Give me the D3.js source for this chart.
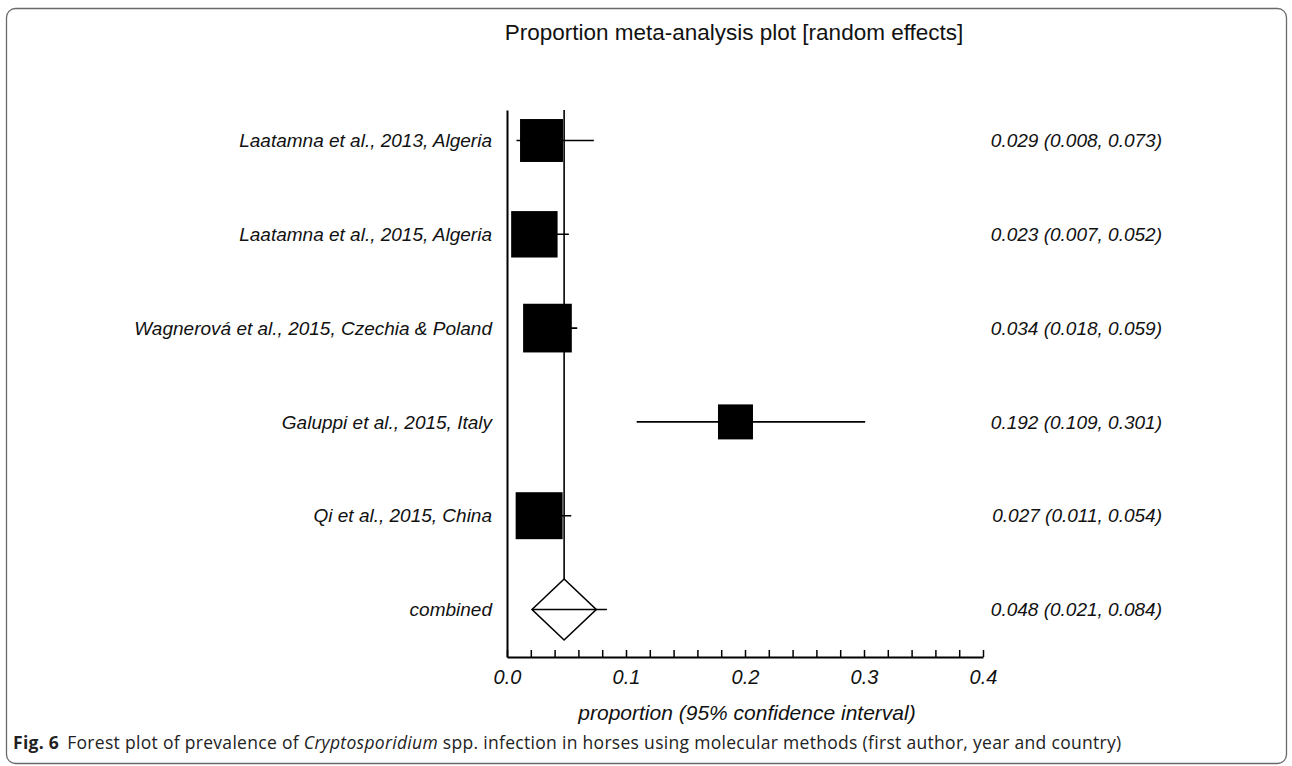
<!DOCTYPE html>
<html>
<head>
<meta charset="utf-8">
<script src="https://cdn.jsdelivr.net/npm/d3@7/dist/d3.min.js"></script>
<style>
  html, body { margin: 0; padding: 0; background: #fff; }
  svg { display: block; }
  .lbl { font-family: "Liberation Sans", Arial, sans-serif; font-style: italic; fill: #111; }
</style>
</head>
<body>
<svg id="mySvg"></svg>
<script>
// study data
const studies = [
  "Laatamna et al., 2013, Algeria",
  "Laatamna et al., 2015, Algeria",
  "Wagnerová et al., 2015, Czechia & Poland",
  "Galuppi et al., 2015, Italy",
  "Qi et al., 2015, China"
];
const estimates = [0.029, 0.023, 0.034, 0.192, 0.027];
const lower = [0.008, 0.007, 0.018, 0.109, 0.011];
const upper = [0.073, 0.052, 0.059, 0.301, 0.054];
// relative weights (%)
const weights = [18.8, 22.0, 24.2, 12.5, 22.5];

const pooledLabel = "combined";
const pooled = { est: 0.048, lo: 0.021, hi: 0.084 };

const xTicks = [0, 0.1, 0.2, 0.3, 0.4];

const width = 1292;
const height = 766;

const svg = d3.select("#mySvg")
  .attr("width", width)
  .attr("height", height);

// frame round the figure
svg.append("rect")
  .attr("x", 6.5).attr("y", 8.5)
  .attr("width", 1280).attr("height", 755)
  .attr("rx", 9).attr("ry", 9)
  .attr("fill", "none")
  .attr("stroke", "#6a6a6a")
  .attr("stroke-width", 1.3);

svg.append("text")
  .attr("class", "lbl")
  .attr("x", 734).attr("y", 40)
  .attr("text-anchor", "middle")
  .style("font-style", "normal")
  .style("font-size", "22.5px")
  .text("Proportion meta-analysis plot [random effects]");

const rows = studies.concat([pooledLabel]);

const x = d3.scaleLinear().domain([0, 0.4]).range([507, 983]);
const y = d3.scalePoint().domain(rows).range([140.5, 609.5]);
const side = d3.scaleSqrt().domain([0, 25]).range([0, 49.5]);

const axisY = 657;
const axisTop = 110;

// x axis, ticks pointing up
svg.append("g")
  .attr("transform", `translate(0, ${axisY})`)
  .call(d3.axisBottom(x)
    .tickValues(d3.range(0, 21).map(i => i * 0.02))
    .tickSizeInner(-7)
    .tickSizeOuter(0)
    .tickPadding(13)
    .tickFormat(d => xTicks.some(t => Math.abs(t - d) < 1e-9) ? d3.format(".1f")(d) : ""))
  .call(g => g.select(".domain").attr("stroke", "#000").attr("stroke-width", 2))
  .call(g => g.selectAll(".tick line").attr("stroke", "#000").attr("stroke-width", 1.5))
  .call(g => g.selectAll(".tick text")
    .attr("class", "lbl")
    .attr("fill", "#111")
    .style("font-size", "20px"));

// y axis line only
svg.append("g")
  .attr("transform", `translate(${x(0)}, 0)`)
  .call(d3.axisLeft(d3.scaleLinear().range([axisTop, axisY])).tickValues([]).tickSizeOuter(0))
  .call(g => g.select(".domain").attr("stroke", "#000").attr("stroke-width", 2));

// reference line at pooled estimate
svg.append("line")
  .attr("x1", x(pooled.est)).attr("x2", x(pooled.est))
  .attr("y1", axisTop).attr("y2", y(pooledLabel) - 30.5)
  .attr("stroke", "#000").attr("stroke-width", 1.6);

const data = studies.map((s, i) => ({
  name: s, est: estimates[i], lo: lower[i], hi: upper[i], w: weights[i]
}));

// confidence interval lines
svg.selectAll(".ci")
  .data(data)
  .enter()
  .append("line")
  .attr("class", "ci")
  .attr("x1", d => x(d.lo))
  .attr("x2", d => x(d.hi))
  .attr("y1", d => y(d.name))
  .attr("y2", d => y(d.name))
  .attr("stroke", "#000")
  .attr("stroke-width", 1.6);

// weight boxes
svg.selectAll(".box")
  .data(data)
  .enter()
  .append("rect")
  .attr("class", "box")
  .attr("x", d => x(d.est) - side(d.w) / 2)
  .attr("y", d => y(d.name) - side(d.w) / 2)
  .attr("width", d => side(d.w))
  .attr("height", d => side(d.w))
  .attr("fill", "#000");

// pooled diamond (symmetric about estimate) and its interval
const py = y(pooledLabel);
const half = pooled.est - pooled.lo;
svg.append("line")
  .attr("x1", x(pooled.lo)).attr("x2", x(pooled.hi))
  .attr("y1", py).attr("y2", py)
  .attr("stroke", "#000").attr("stroke-width", 1.6);
svg.append("path")
  .attr("d", `M${x(pooled.est - half)},${py} L${x(pooled.est)},${py - 30.5} L${x(pooled.est + half)},${py} L${x(pooled.est)},${py + 30.5} Z`)
  .attr("fill", "none")
  .attr("stroke", "#000")
  .attr("stroke-width", 1.6);

// study labels on the left
svg.selectAll(".name")
  .data(rows)
  .enter()
  .append("text")
  .attr("class", "lbl")
  .attr("x", 492)
  .attr("y", d => y(d))
  .attr("dy", "0.35em")
  .attr("text-anchor", "end")
  .style("font-size", "19px")
  .text(d => d);

// value labels on the right
const fmt = d3.format(".3f");
const vals = data.map(d => [d.est, d.lo, d.hi]).concat([[pooled.est, pooled.lo, pooled.hi]]);
svg.selectAll(".val")
  .data(vals)
  .enter()
  .append("text")
  .attr("class", "lbl")
  .attr("x", 1162)
  .attr("y", (d, i) => y(rows[i]))
  .attr("dy", "0.35em")
  .attr("text-anchor", "end")
  .style("font-size", "19px")
  .text(d => `${fmt(d[0])} (${fmt(d[1])}, ${fmt(d[2])})`);

svg.append("text")
  .attr("class", "lbl")
  .attr("x", 747).attr("y", 720)
  .attr("text-anchor", "middle")
  .style("font-size", "21px")
  .text("proportion (95% confidence interval)");

// figure caption
const cap = svg.append("text")
  .attr("x", 13).attr("y", 749)
  .style("font-family", "'Open Sans', 'Noto Sans', sans-serif")
  .style("font-size", "17.5px")
  .style("letter-spacing", "0.3px")
  .attr("fill", "#222");
cap.append("tspan").style("font-weight", "bold").text("Fig. 6");
cap.append("tspan").attr("dx", 8).text("Forest plot of prevalence of ");
cap.append("tspan").style("font-style", "italic").text("Cryptosporidium");
cap.append("tspan").text(" spp. infection in horses using molecular methods (first author, year and country)");
</script>
</body>
</html>
